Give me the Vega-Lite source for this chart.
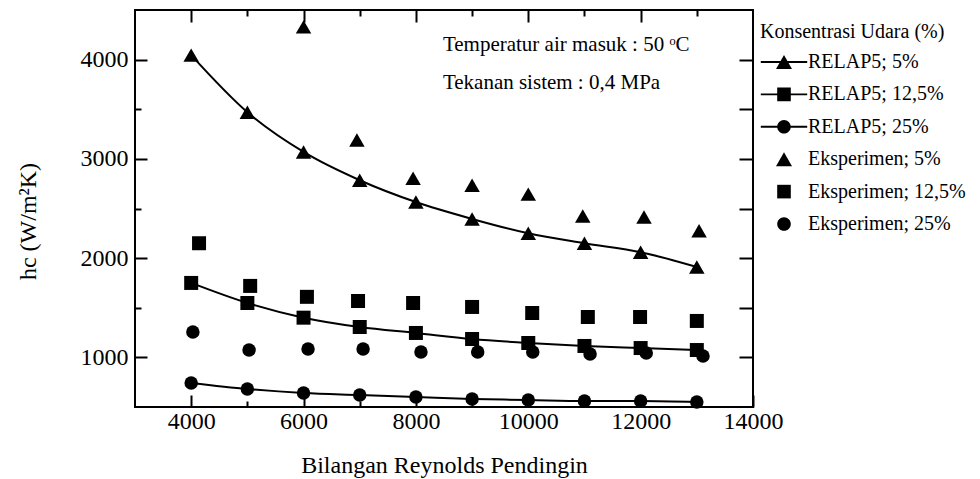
{
  "$schema": "https://vega.github.io/schema/vega-lite/v6.json",
  "width": 618,
  "height": 397,
  "autosize": "none",
  "padding": {"left": 135, "top": 10, "right": 227, "bottom": 72},
  "background": "white",
  "config": {
    "font": "Liberation Serif",
    "view": {"stroke": "black", "strokeWidth": 2},
    "axis": {
      "domain": false,
      "grid": false,
      "tickColor": "black",
      "tickWidth": 2,
      "labelColor": "black",
      "labelFont": "Liberation Serif",
      "labelFontSize": 24,
      "titleFont": "Liberation Serif",
      "titleFontSize": 24,
      "titleFontWeight": "normal",
      "titleColor": "black"
    },
    "legend": {
      "titleFont": "Liberation Serif",
      "labelFont": "Liberation Serif"
    }
  },
  "datasets": {
    "pts": [
      {"type": "RELAP5", "conc": "5", "series": "RELAP5;  5%", "marker": "tri", "Re": 4000, "h": 4045},
      {"type": "RELAP5", "conc": "5", "series": "RELAP5;  5%", "marker": "tri", "Re": 5000, "h": 3470},
      {"type": "RELAP5", "conc": "5", "series": "RELAP5;  5%", "marker": "tri", "Re": 6000, "h": 3070},
      {"type": "RELAP5", "conc": "5", "series": "RELAP5;  5%", "marker": "tri", "Re": 7000, "h": 2785},
      {"type": "RELAP5", "conc": "5", "series": "RELAP5;  5%", "marker": "tri", "Re": 8000, "h": 2565},
      {"type": "RELAP5", "conc": "5", "series": "RELAP5;  5%", "marker": "tri", "Re": 9000, "h": 2395},
      {"type": "RELAP5", "conc": "5", "series": "RELAP5;  5%", "marker": "tri", "Re": 10000, "h": 2250},
      {"type": "RELAP5", "conc": "5", "series": "RELAP5;  5%", "marker": "tri", "Re": 11000, "h": 2150},
      {"type": "RELAP5", "conc": "5", "series": "RELAP5;  5%", "marker": "tri", "Re": 12000, "h": 2060},
      {"type": "RELAP5", "conc": "5", "series": "RELAP5;  5%", "marker": "tri", "Re": 13000, "h": 1910},
      {"type": "RELAP5", "conc": "12,5", "series": "RELAP5; 12,5%", "marker": "sq", "Re": 4000, "h": 1750},
      {"type": "RELAP5", "conc": "12,5", "series": "RELAP5; 12,5%", "marker": "sq", "Re": 5000, "h": 1548},
      {"type": "RELAP5", "conc": "12,5", "series": "RELAP5; 12,5%", "marker": "sq", "Re": 6000, "h": 1400},
      {"type": "RELAP5", "conc": "12,5", "series": "RELAP5; 12,5%", "marker": "sq", "Re": 7000, "h": 1306},
      {"type": "RELAP5", "conc": "12,5", "series": "RELAP5; 12,5%", "marker": "sq", "Re": 8000, "h": 1246},
      {"type": "RELAP5", "conc": "12,5", "series": "RELAP5; 12,5%", "marker": "sq", "Re": 9000, "h": 1185},
      {"type": "RELAP5", "conc": "12,5", "series": "RELAP5; 12,5%", "marker": "sq", "Re": 10000, "h": 1145},
      {"type": "RELAP5", "conc": "12,5", "series": "RELAP5; 12,5%", "marker": "sq", "Re": 11000, "h": 1115},
      {"type": "RELAP5", "conc": "12,5", "series": "RELAP5; 12,5%", "marker": "sq", "Re": 12000, "h": 1094},
      {"type": "RELAP5", "conc": "12,5", "series": "RELAP5; 12,5%", "marker": "sq", "Re": 13000, "h": 1074},
      {"type": "RELAP5", "conc": "25", "series": "RELAP5; 25%", "marker": "circ", "Re": 4000, "h": 742},
      {"type": "RELAP5", "conc": "25", "series": "RELAP5; 25%", "marker": "circ", "Re": 5000, "h": 681},
      {"type": "RELAP5", "conc": "25", "series": "RELAP5; 25%", "marker": "circ", "Re": 6000, "h": 641},
      {"type": "RELAP5", "conc": "25", "series": "RELAP5; 25%", "marker": "circ", "Re": 7000, "h": 621},
      {"type": "RELAP5", "conc": "25", "series": "RELAP5; 25%", "marker": "circ", "Re": 8000, "h": 601},
      {"type": "RELAP5", "conc": "25", "series": "RELAP5; 25%", "marker": "circ", "Re": 9000, "h": 581},
      {"type": "RELAP5", "conc": "25", "series": "RELAP5; 25%", "marker": "circ", "Re": 10000, "h": 571},
      {"type": "RELAP5", "conc": "25", "series": "RELAP5; 25%", "marker": "circ", "Re": 11000, "h": 560},
      {"type": "RELAP5", "conc": "25", "series": "RELAP5; 25%", "marker": "circ", "Re": 12000, "h": 560},
      {"type": "RELAP5", "conc": "25", "series": "RELAP5; 25%", "marker": "circ", "Re": 13000, "h": 550},
      {"type": "Eksperimen", "conc": "5", "series": "Eksperimen; 5%", "marker": "tri", "Re": 6000, "h": 4330},
      {"type": "Eksperimen", "conc": "5", "series": "Eksperimen; 5%", "marker": "tri", "Re": 6950, "h": 3190},
      {"type": "Eksperimen", "conc": "5", "series": "Eksperimen; 5%", "marker": "tri", "Re": 7950, "h": 2805},
      {"type": "Eksperimen", "conc": "5", "series": "Eksperimen; 5%", "marker": "tri", "Re": 9000, "h": 2735},
      {"type": "Eksperimen", "conc": "5", "series": "Eksperimen; 5%", "marker": "tri", "Re": 10000, "h": 2645},
      {"type": "Eksperimen", "conc": "5", "series": "Eksperimen; 5%", "marker": "tri", "Re": 10970, "h": 2425},
      {"type": "Eksperimen", "conc": "5", "series": "Eksperimen; 5%", "marker": "tri", "Re": 12060, "h": 2415},
      {"type": "Eksperimen", "conc": "5", "series": "Eksperimen; 5%", "marker": "tri", "Re": 13040, "h": 2275},
      {"type": "Eksperimen", "conc": "12,5", "series": "Eksperimen; 12,5%", "marker": "sq", "Re": 4140, "h": 2150},
      {"type": "Eksperimen", "conc": "12,5", "series": "Eksperimen; 12,5%", "marker": "sq", "Re": 5050, "h": 1720},
      {"type": "Eksperimen", "conc": "12,5", "series": "Eksperimen; 12,5%", "marker": "sq", "Re": 6060, "h": 1610},
      {"type": "Eksperimen", "conc": "12,5", "series": "Eksperimen; 12,5%", "marker": "sq", "Re": 6970, "h": 1568},
      {"type": "Eksperimen", "conc": "12,5", "series": "Eksperimen; 12,5%", "marker": "sq", "Re": 7950, "h": 1548},
      {"type": "Eksperimen", "conc": "12,5", "series": "Eksperimen; 12,5%", "marker": "sq", "Re": 9000, "h": 1508},
      {"type": "Eksperimen", "conc": "12,5", "series": "Eksperimen; 12,5%", "marker": "sq", "Re": 10070, "h": 1447},
      {"type": "Eksperimen", "conc": "12,5", "series": "Eksperimen; 12,5%", "marker": "sq", "Re": 11060, "h": 1407},
      {"type": "Eksperimen", "conc": "12,5", "series": "Eksperimen; 12,5%", "marker": "sq", "Re": 11990, "h": 1407},
      {"type": "Eksperimen", "conc": "12,5", "series": "Eksperimen; 12,5%", "marker": "sq", "Re": 13000, "h": 1367},
      {"type": "Eksperimen", "conc": "25", "series": "Eksperimen; 25%", "marker": "circ", "Re": 4030, "h": 1256},
      {"type": "Eksperimen", "conc": "25", "series": "Eksperimen; 25%", "marker": "circ", "Re": 5030, "h": 1074},
      {"type": "Eksperimen", "conc": "25", "series": "Eksperimen; 25%", "marker": "circ", "Re": 6080, "h": 1084},
      {"type": "Eksperimen", "conc": "25", "series": "Eksperimen; 25%", "marker": "circ", "Re": 7060, "h": 1084},
      {"type": "Eksperimen", "conc": "25", "series": "Eksperimen; 25%", "marker": "circ", "Re": 8090, "h": 1054},
      {"type": "Eksperimen", "conc": "25", "series": "Eksperimen; 25%", "marker": "circ", "Re": 9100, "h": 1054},
      {"type": "Eksperimen", "conc": "25", "series": "Eksperimen; 25%", "marker": "circ", "Re": 10080, "h": 1054},
      {"type": "Eksperimen", "conc": "25", "series": "Eksperimen; 25%", "marker": "circ", "Re": 11100, "h": 1034},
      {"type": "Eksperimen", "conc": "25", "series": "Eksperimen; 25%", "marker": "circ", "Re": 12100, "h": 1044},
      {"type": "Eksperimen", "conc": "25", "series": "Eksperimen; 25%", "marker": "circ", "Re": 13110, "h": 1014}
    ],
    "notes": [
      {"Re": 8480, "h": 4150, "label": "Temperatur air masuk : 50 ᵒC"},
      {"Re": 8480, "h": 3765, "label": "Tekanan sistem : 0,4 MPa"}
    ]
  },
  "layer": [
    {
      "data": {"name": "pts"},
      "transform": [{"filter": "datum.type === 'RELAP5'"}],
      "mark": {"type": "line", "color": "black", "strokeWidth": 2, "interpolate": "monotone"},
      "encoding": {
        "x": {
          "field": "Re", "type": "quantitative",
          "scale": {"domain": [3000, 14000], "nice": false, "zero": false},
          "axis": {
            "orient": "bottom",
            "title": "Bilangan Reynolds Pendingin",
            "titlePadding": 14,
            "values": [4000, 5000, 6000, 7000, 8000, 9000, 10000, 11000, 12000, 13000, 14000],
            "format": "d",
            "labelExpr": "datum.value % 2000 === 0 ? datum.label : ''",
            "labelPadding": 14,
            "labelFlush": false,
            "labelOverlap": false,
            "tickSize": {"condition": {"test": "datum.value % 2000 === 0", "value": -12}, "value": -6}
          }
        },
        "y": {
          "field": "h", "type": "quantitative",
          "scale": {"domain": [500, 4500], "nice": false, "zero": false},
          "axis": {
            "orient": "left",
            "title": "hc (W/m²K)",
            "titlePadding": 40,
            "titleY": 211,
            "values": [1000, 1500, 2000, 2500, 3000, 3500, 4000],
            "format": "d",
            "labelExpr": "datum.value % 1000 === 0 ? datum.label : ''",
            "labelPadding": 19,
            "labelOverlap": false,
            "tickSize": {"condition": {"test": "datum.value % 1000 === 0", "value": -12}, "value": -6}
          }
        },
        "detail": {"field": "conc", "type": "nominal"}
      }
    },
    {
      "data": {"name": "pts"},
      "mark": {"type": "point", "filled": true, "color": "black", "opacity": 1},
      "encoding": {
        "x": {"field": "Re", "type": "quantitative", "scale": {"domain": [3000, 14000], "nice": false, "zero": false}, "axis": null},
        "y": {"field": "h", "type": "quantitative", "scale": {"domain": [500, 4500], "nice": false, "zero": false}, "axis": null},
        "shape": {
          "field": "marker", "type": "nominal",
          "scale": {"domain": ["tri", "sq", "circ"], "range": ["triangle-up", "square", "circle"]},
          "legend": null
        },
        "size": {
          "field": "marker", "type": "ordinal",
          "scale": {"type": "ordinal", "domain": ["tri", "sq", "circ"], "range": [240, 196, 182]},
          "legend": null
        }
      }
    },
    {
      "data": {"name": "pts"},
      "mark": {"type": "point", "filled": true, "color": "black", "opacity": 0},
      "encoding": {
        "x": {"field": "Re", "type": "quantitative", "scale": {"domain": [3000, 14000], "nice": false, "zero": false}, "axis": null},
        "y": {"field": "h", "type": "quantitative", "scale": {"domain": [500, 4500], "nice": false, "zero": false}, "axis": null},
        "shape": {
          "field": "series", "type": "nominal",
          "scale": {
            "domain": ["RELAP5;  5%", "RELAP5; 12,5%", "RELAP5; 25%", "Eksperimen; 5%", "Eksperimen; 12,5%", "Eksperimen; 25%"],
            "range": [
              "M-2.9,-0.12H2.9V0.12H-2.9ZM0,-0.87L1,0.87H-1Z",
              "M-2.9,-0.12H2.9V0.12H-2.9ZM-0.85,-0.85H0.85V0.85H-0.85Z",
              "M-2.9,-0.12H2.9V0.12H-2.9ZM-0.85,0A0.85,0.85,0,1,1,0.85,0A0.85,0.85,0,1,1,-0.85,0Z",
              "M0,-0.87L1,0.87H-1Z",
              "M-0.85,-0.85H0.85V0.85H-0.85Z",
              "M-0.85,0A0.85,0.85,0,1,1,0.85,0A0.85,0.85,0,1,1,-0.85,0Z"
            ]
          },
          "legend": {
            "title": "Konsentrasi Udara (%)",
            "orient": "none",
            "legendX": 625,
            "legendY": 12,
            "titleFontSize": 20,
            "titleFontWeight": "normal",
            "titleColor": "black",
            "titlePadding": 10,
            "titleLimit": 400,
            "labelFontSize": 20,
            "labelColor": "black",
            "labelLimit": 400,
            "symbolSize": 256,
            "symbolOpacity": 1,
            "symbolFillColor": "black",
            "symbolStrokeColor": "black",
            "symbolStrokeWidth": 0,
            "symbolOffset": 14,
            "labelOffset": 14,
            "rowPadding": 12.4,
            "padding": 0,
            "encode": {
              "symbols": {
                "update": {
                  "fill": {"value": "black"},
                  "opacity": {"value": 1}
                }
              }
            }
          }
        }
      }
    },
    {
      "data": {"name": "notes"},
      "mark": {"type": "text", "align": "left", "baseline": "middle", "fontSize": 21, "font": "Liberation Serif", "color": "black"},
      "encoding": {
        "x": {
          "field": "Re", "type": "quantitative",
          "scale": {"domain": [3000, 14000], "nice": false, "zero": false},
          "axis": {
            "orient": "top", "title": null, "labels": false,
            "values": [4000, 5000, 6000, 7000, 8000, 9000, 10000, 11000, 12000, 13000],
            "tickSize": {"condition": {"test": "datum.value % 2000 === 0", "value": -12}, "value": -6}
          }
        },
        "y": {
          "field": "h", "type": "quantitative",
          "scale": {"domain": [500, 4500], "nice": false, "zero": false},
          "axis": {
            "orient": "right", "title": null, "labels": false,
            "values": [1000, 1500, 2000, 2500, 3000, 3500, 4000],
            "tickSize": -14
          }
        },
        "text": {"field": "label", "type": "nominal"}
      }
    }
  ],
  "resolve": {
    "scale": {"shape": "independent", "size": "independent"},
    "axis": {"x": "independent", "y": "independent"}
  }
}
